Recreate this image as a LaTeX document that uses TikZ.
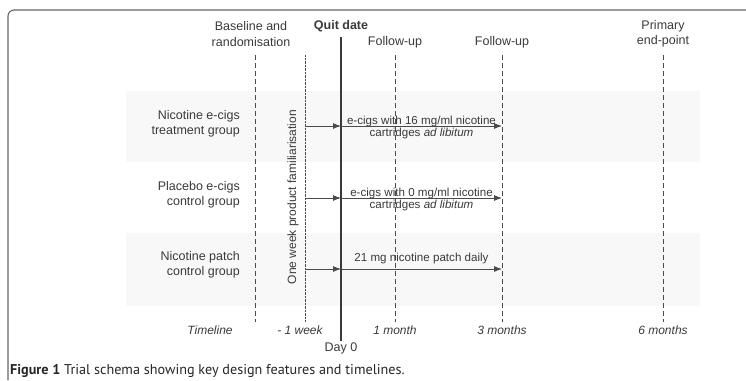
\documentclass[tikz,border=0pt]{standalone}
\usepackage{fontspec}
\setmainfont{Liberation Sans}
\newfontfamily\capfont{PT Sans}
\usetikzlibrary{arrows.meta,calc}

\definecolor{txtgray}{HTML}{3A3A3A}
\definecolor{linegray}{HTML}{4A4A4A}
\definecolor{bandgray}{HTML}{F8F8F8}

\begin{document}
\begin{tikzpicture}[x=1pt, y=-1pt,
	every node/.style={text=txtgray, font=\fontsize{12.5}{15.5}\selectfont, inner sep=0pt},
	marker/.style={draw=linegray, line width=1pt, dash pattern=on 5pt off 3pt},
	famline/.style={draw=linegray, line width=0.6pt, dash pattern=on 0.6pt off 0.8pt},
	quitline/.style={draw=txtgray, line width=2.4pt},
	arr/.style={draw=linegray, line width=0.9pt, -{Latex[length=8pt,width=6pt]}},
	lbl/.style={font=\fontsize{11.6}{12.5}\selectfont, align=center},
	tick/.style={font=\fontsize{12}{14}\selectfont\itshape}]

\useasboundingbox (0,0) rectangle (746,380);

% Frame
\draw[draw=gray!80!black, line width=1.1pt, rounded corners=6pt] (8,380) -- (8,10) -- (746,10);

% Group bands
\fill[bandgray] (126,91) rectangle (700,162);
\fill[bandgray] (126,233) rectangle (700,306);

% Time markers
\foreach \x/\name in {255/base, 395/fu1, 502/fu2, 663/endpt} {
	\coordinate (\name top) at (\x,55);
	\coordinate (\name bot) at (\x,322);
	\draw[marker] (\name top) -- (\name bot);
}
\coordinate (famtop) at (305,55);
\coordinate (fambot) at (305,322);
\draw[famline] (famtop) -- (fambot);
\coordinate (quittop) at (341,37);
\coordinate (quitbot) at (341,341);
\draw[quitline] (quittop) -- (quitbot);

% Header labels
\node[align=center] (base) at (251,34) {Baseline and\\randomisation};
\node[font=\fontsize{12.5}{15.5}\selectfont\bfseries] (quit) at (341,26) {Quit date};
\node (fu1) at (395,42) {Follow-up};
\node (fu2) at (502,42) {Follow-up};
\node[align=center] (endpt) at (663,34) {Primary\\end-point};

% Groups
\node[align=right, anchor=east] (grp1) at (240,124) {Nicotine e-cigs\\treatment group};
\node[align=right, anchor=east] (grp2) at (240,195) {Placebo e-cigs\\control group};
\node[align=right, anchor=east] (grp3) at (240,265) {Nicotine patch\\control group};

\node[rotate=90, font=\fontsize{12}{14}\selectfont] (fam) at (293,197) {One week product familiarisation};

% Arrows
\foreach \i/\y in {1/126, 2/198, 3/269} {
	\coordinate (s\i) at (305,\y);
	\coordinate (q\i) at (341,\y);
	\coordinate (e\i) at (502,\y);
	\draw[arr] (s\i) -- (q\i);
	\draw[arr] (q\i) -- (e\i);
}
\path (q1) -- node[lbl, yshift=-1.5pt] (t1) {e-cigs with 16 mg/ml nicotine\\cartridges \textit{ad libitum}} (e1);
\path (q2) -- node[lbl, yshift=-1.5pt] (t2) {e-cigs with 0 mg/ml nicotine\\cartridges \textit{ad libitum}} (e2);
\path (q3) -- node[lbl, yshift=11pt] (t3) {21 mg nicotine patch daily} (e3);

% Timeline
\node[tick] (tl) at (210,330) {Timeline};
\node[tick] (wk) at (300,330) {- 1 week};
\node[tick] (m1) at (395,330) {1 month};
\node[tick] (m3) at (502,330) {3 months};
\node[tick] (m6) at (663,330) {6 months};
\node (day) at (341,348) {Day 0};

% Caption
\node[anchor=west, text=black!85, font=\capfont\fontsize{14.2}{16}\selectfont] (cap) at (10,371) {\textbf{Figure 1} Trial schema showing key design features and timelines.};
\end{tikzpicture}
\end{document}
